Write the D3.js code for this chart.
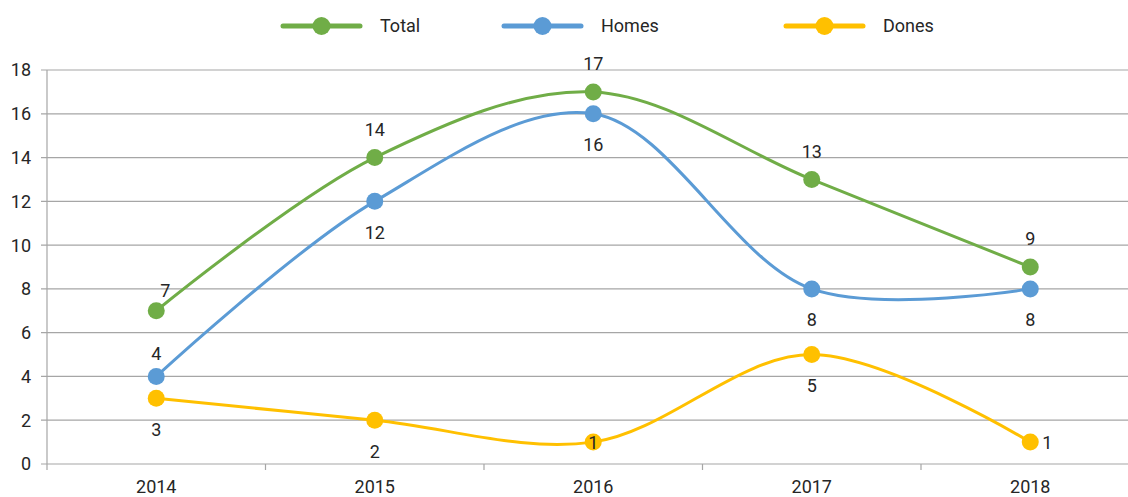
<!DOCTYPE html>
<html><head><meta charset="utf-8">
<script src="https://cdn.jsdelivr.net/npm/d3@7"></script>
<style>body{margin:0;background:#fff}svg{display:block}text{font-family:Roboto,"Noto Sans",sans-serif;fill:#262626}</style>
</head><body><svg id="c" width="1128" height="497"></svg>
<script>
const years = ["2014","2015","2016","2017","2018"];
const seriesNames = ["Total","Homes","Dones"];
const total = [7,14,17,13,9];
const homes = [4,12,16,8,8];
const dones = [3,2,1,5,1];
const yTicks = [0,2,4,6,8,10,12,14,16,18];
const totalLabelPos = ["above","above","above","above","above"];
const homesLabelPos = ["above","below","below","below","below"];
const donesLabelPos = ["below","below","center","below","right"];

(function(){
const colors = ["#70AD47","#5B9BD5","#FFC000"];
const series = [
  {name:seriesNames[0], values:total, pos:totalLabelPos, color:colors[0]},
  {name:seriesNames[1], values:homes, pos:homesLabelPos, color:colors[1]},
  {name:seriesNames[2], values:dones, pos:donesLabelPos, color:colors[2]}
];

const svg = d3.select("#c");
const mL = 47, mR = 1139.5, mT = 70, mB = 464;
const x = d3.scaleBand().domain(years).range([mL,mR]);
const y = d3.scaleLinear().domain([0,18]).range([mB,mT]);
const cx = d => x(d) + x.bandwidth()/2;

svg.append("g").selectAll("line").data(yTicks).join("line")
  .attr("x1",41).attr("x2",1128).attr("y1",d=>y(d)).attr("y2",d=>y(d))
  .attr("stroke","#a6a6a6").attr("stroke-width",1.2);
svg.append("line").attr("x1",mL).attr("x2",mL).attr("y1",mT).attr("y2",mB+6)
  .attr("stroke","#a6a6a6").attr("stroke-width",1.2);
svg.append("g").selectAll("line").data(years.slice(1)).join("line")
  .attr("x1",d=>x(d)).attr("x2",d=>x(d)).attr("y1",mB).attr("y2",mB+6)
  .attr("stroke","#a6a6a6").attr("stroke-width",1.2);
svg.append("g").selectAll("text").data(yTicks).join("text")
  .attr("x",31).attr("y",d=>y(d)).attr("dy","0.36em").attr("text-anchor","end")
  .attr("font-size",18).text(d=>d);
svg.append("g").selectAll("text").data(years).join("text")
  .attr("x",d=>cx(d)).attr("y",487).attr("dy","0.36em").attr("text-anchor","middle")
  .attr("font-size",18).text(d=>d);

const line = d3.line().x((d,i)=>cx(years[i])).y(d=>y(d)).curve(d3.curveCatmullRom.alpha(0.5));

series.forEach(s=>{
  svg.append("path").attr("d",line(s.values)).attr("fill","none")
    .attr("stroke",s.color).attr("stroke-width",3);
});
series.forEach(s=>{
  svg.append("g").selectAll("circle").data(s.values).join("circle")
    .attr("cx",(d,i)=>cx(years[i])).attr("cy",d=>y(d)).attr("r",8.5)
    .attr("fill",s.color);
});
series.forEach((s,si)=>{
  svg.append("g").selectAll("text").data(s.values).join("text")
    .attr("x",(d,i)=>cx(years[i]) + (s.pos[i]==="right"?17:0) + (si===0&&i===0?9:0))
    .attr("y",(d,i)=>{
      const p=s.pos[i];
      let off = p==="above"?-28:p==="below"?31:0;
      if(p==="above" && i===0) off = si===0 ? -20 : -23;
      return y(d) + off;
    })
    .attr("dy","0.36em")
    .attr("text-anchor","middle")
    .attr("font-size",18).text(d=>d);
});

const legX = [283,504,786];
const lg = svg.append("g").selectAll("g").data(series).join("g")
  .attr("transform",(d,i)=>`translate(${legX[i]},26)`);
lg.append("line").attr("x1",0).attr("x2",77).attr("y1",0).attr("y2",0)
  .attr("stroke",d=>d.color).attr("stroke-width",5).attr("stroke-linecap","round");
lg.append("circle").attr("cx",38.5).attr("cy",0).attr("r",9).attr("fill",d=>d.color);
lg.append("text").attr("x",97).attr("y",0).attr("dy","0.36em")
  .attr("font-size",18).text(d=>d.name);
})();
</script></body></html>
